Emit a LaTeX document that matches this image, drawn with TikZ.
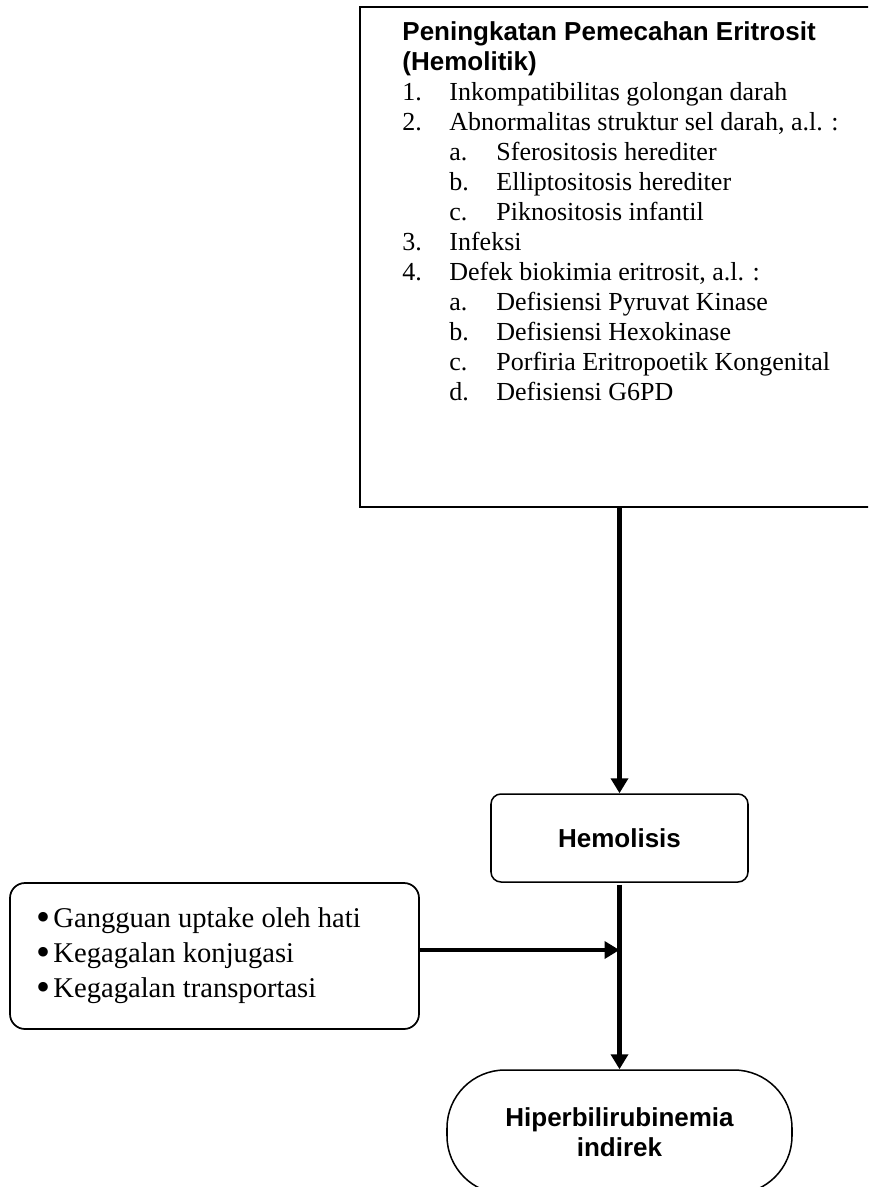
\documentclass[tikz,border=0pt]{standalone}
\usepackage{fontspec}
\setmainfont{Liberation Serif}
\newfontfamily\headfont{Liberation Sans}
\usetikzlibrary{arrows.meta,positioning}
\newlength\pxu
\setlength\pxu{0.4615pt}
\newcommand{\butir}{\makebox[7.85pt][l]{\smash{\raisebox{-0.13em}{\scalebox{1.4}{•}}}}}
\tikzset{
  panah/.style={line width=1.85pt,-{Triangle[width=7.8pt,length=6.9pt]}},
  kotakbesar/.style={draw,line width=0.9pt,inner sep=0pt,minimum width=540\pxu,minimum height=500\pxu},
  kotakhemo/.style={draw,line width=0.7pt,rounded corners=10\pxu,minimum width=257\pxu,minimum height=88\pxu,
    font=\headfont\bfseries\fontsize{12}{13.85}\selectfont},
  kotakfaktor/.style={draw,line width=0.8pt,rounded corners=15\pxu,minimum width=409\pxu,minimum height=146\pxu},
  kotakhasil/.style={draw,line width=0.7pt,rounded corners=58\pxu,minimum width=345\pxu,minimum height=124\pxu,
    align=center,font=\headfont\bfseries\fontsize{12}{13.85}\selectfont}
}
\begin{document}
\begin{tikzpicture}[x=\pxu,y=-\pxu]
  \useasboundingbox (0,0) rectangle (868,1187);
  \clip (0,0) rectangle (868,1187);
  \node [kotakbesar] (sebab) at (630,257) {};
  \node [anchor=base west,inner sep=0pt,font=\fontsize{12}{13.85}\selectfont] (sebablist) at (402,40) {%
    \begin{tabular}[t]{@{}p{21.69pt}@{}p{21.69pt}@{}l@{}}
      \multicolumn{3}{@{}l@{}}{\headfont\bfseries Peningkatan Pemecahan Eritrosit}\\
      \multicolumn{3}{@{}l@{}}{\headfont\bfseries (Hemolitik)}\\
      1. & \multicolumn{2}{@{}l@{}}{Inkompatibilitas golongan darah}\\
      2. & \multicolumn{2}{@{}l@{}}{Abnormalitas struktur sel darah, a.l. :}\\
       & a. & Sferositosis herediter\\
       & b. & Elliptositosis herediter\\
       & c. & Piknositosis infantil\\
      3. & \multicolumn{2}{@{}l@{}}{Infeksi}\\
      4. & \multicolumn{2}{@{}l@{}}{Defek biokimia eritrosit, a.l. :}\\
       & a. & Defisiensi Pyruvat Kinase\\
       & b. & Defisiensi Hexokinase\\
       & c. & Porfiria Eritropoetik Kongenital\\
       & d. & Defisiensi G6PD
    \end{tabular}};
  \node [kotakhemo] (hemolisis) at (619.5,838) {Hemolisis};
  \node [kotakfaktor] (faktor) at (214.5,956) {};
  \node [anchor=base west,inner sep=0pt,font=\fontsize{13.2}{16.15}\selectfont] (faktorlist) at (36,927) {%
    \begin{tabular}[t]{@{}l@{}}
      \butir Gangguan uptake oleh hati\\
      \butir Kegagalan konjugasi\\
      \butir Kegagalan transportasi
    \end{tabular}};
  \node [kotakhasil] (hiper) at (619.5,1132) {Hiperbilirubinemia\\indirek};
  \coordinate (temu) at (619.5,950);
  \draw [panah] (sebab.south -| hemolisis.north) -- (hemolisis.north);
  \draw [panah] ([yshift=-2\pxu]hemolisis.south) -- (hiper.north);
  \draw [panah] (faktor.east |- temu) -- (temu);
\end{tikzpicture}
\end{document}
